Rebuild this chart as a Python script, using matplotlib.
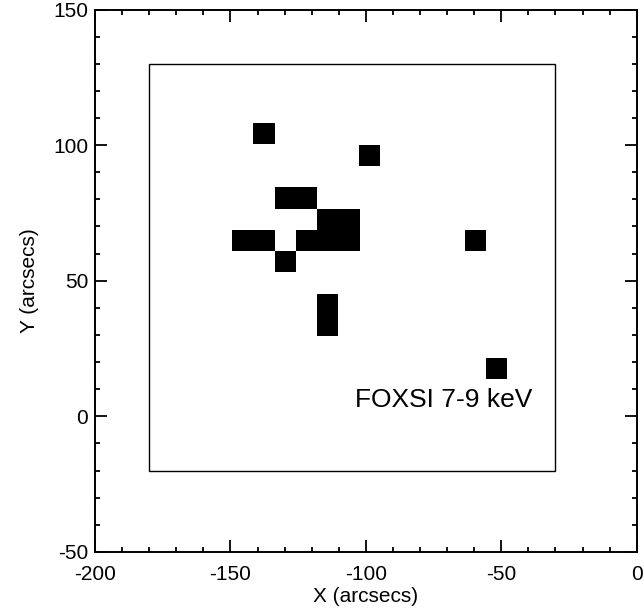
import matplotlib
matplotlib.use("Agg")
import matplotlib.pyplot as plt
from matplotlib.ticker import MultipleLocator
from matplotlib.patches import Rectangle

plt.rcParams['font.family'] = ['Liberation Sans', 'DejaVu Sans']

# Detector pixels above threshold (centres in arcsec)
pix_x = [-137.6, -98.5, -129.7, -121.8, -114.0, -106.2,
         -145.4, -137.6, -121.8, -114.0, -106.2, -59.6,
         -129.7, -114.0, -114.0, -51.85]
pix_y = [104.2, 96.3, 80.5, 80.5, 72.7, 72.7,
         64.85, 64.85, 64.85, 64.85, 64.85, 64.85,
         57.0, 41.3, 33.5, 17.8]
pix_size = 7.8

# Field-of-view box
box_x = [-180, -30]
box_y = [-20, 130]

x_ticks = [-200, -150, -100, -50, 0]
y_ticks = [-50, 0, 50, 100, 150]
label = "FOXSI 7-9 keV"

fig = plt.figure(figsize=(6.44, 6.09), dpi=100)
ax = fig.add_axes([0.1475, 0.0936, 0.8412, 0.8908])

ax.bar(pix_x, [pix_size] * len(pix_x), width=pix_size,
       bottom=[y - pix_size / 2 for y in pix_y],
       color='black', edgecolor='none', linewidth=0)

ax.add_patch(Rectangle((box_x[0], box_y[0]), box_x[1] - box_x[0],
                       box_y[1] - box_y[0], fill=False,
                       edgecolor='black', linewidth=1.0))

ax.text(-104, 3.5, label, fontsize=19, ha='left', va='baseline')

ax.set_xlim(-200, 0)
ax.set_ylim(-50, 150)
ax.set_xticks(x_ticks)
ax.set_yticks(y_ticks)
ax.set_xticklabels([str(t) for t in x_ticks])
ax.set_yticklabels([str(t) for t in y_ticks])
ax.xaxis.set_minor_locator(MultipleLocator(10))
ax.yaxis.set_minor_locator(MultipleLocator(10))
ax.tick_params(which='both', direction='in', top=True, right=True,
               width=1.3, labelsize=15)
ax.tick_params(which='major', length=8.6)
ax.tick_params(which='minor', length=3.6)
ax.tick_params(axis='x', which='major', pad=9.5)
ax.tick_params(axis='y', which='major', pad=5)
for s in ax.spines.values():
    s.set_linewidth(1.4)

ax.set_xlabel("X (arcsecs)", fontsize=15, labelpad=2)
ax.set_ylabel("Y (arcsecs)", fontsize=15, labelpad=10)

fig.savefig("out.png", dpi=100)
